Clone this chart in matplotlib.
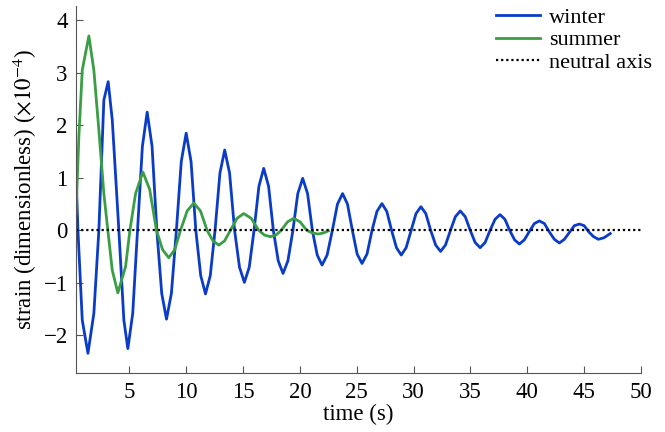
import matplotlib
matplotlib.use('Agg')
import matplotlib.pyplot as plt

plt.rcParams['font.family'] = ['Liberation Serif', 'DejaVu Serif']
plt.rcParams['mathtext.fontset'] = 'stix'

# winter strain (x1e-4)
winter_t = [0.30, 0.33, 0.47, 0.85, 1.35, 1.87, 2.31, 2.75, 3.13, 3.49, 4.07, 4.51, 4.86,
            5.29, 5.71, 6.14, 6.56, 6.99, 7.41, 7.84, 8.26, 8.69, 9.13, 9.56, 9.99,
            10.42, 10.84, 11.27, 11.69, 12.11, 12.53, 12.96, 13.38, 13.81, 14.25, 14.68,
            15.11, 15.54, 15.96, 16.39, 16.81, 17.24, 17.66, 18.09, 18.51, 18.94, 19.38,
            19.81, 20.24, 20.67, 21.09, 21.52, 21.94, 22.39, 22.85, 23.30, 23.75, 24.18,
            24.61, 25.03, 25.46, 25.90, 26.34, 26.77, 27.21, 27.64, 28.06, 28.49, 28.91,
            29.34, 29.78, 30.21, 30.64, 31.07, 31.50, 31.94, 32.37, 32.80, 33.24, 33.67,
            34.10, 34.54, 34.98, 35.41, 35.85, 36.29, 36.72, 37.16, 37.60, 38.03, 38.45,
            38.88, 39.30, 39.74, 40.18, 40.62, 41.06, 41.50, 41.94, 42.38, 42.82, 43.26,
            43.70, 44.14, 44.58, 45.00, 45.41, 45.83, 46.25, 46.75, 47.30]
winter_y = [1.49, 0.90, 0.00, -1.71, -2.34, -1.58, 0.00, 2.48, 2.83, 2.10, 0.00, -1.71, -2.25,
            -1.58, 0.00, 1.60, 2.25, 1.60, 0.00, -1.20, -1.69, -1.20, 0.00, 1.31, 1.85,
            1.31, 0.00, -0.86, -1.21, -0.86, 0.00, 1.09, 1.53, 1.09, 0.00, -0.70,
            -0.99, -0.70, 0.00, 0.84, 1.18, 0.84, 0.00, -0.58, -0.82, -0.58, 0.00,
            0.70, 0.99, 0.70, 0.00, -0.47, -0.66, -0.47, 0.00, 0.50, 0.70, 0.50,
            0.00, -0.45, -0.63, -0.45, 0.00, 0.36, 0.51, 0.36, 0.00, -0.33, -0.47,
            -0.33, 0.00, 0.32, 0.45, 0.32, 0.00, -0.28, -0.40, -0.28, 0.00, 0.26,
            0.37, 0.26, 0.00, -0.23, -0.33, -0.23, 0.00, 0.21, 0.30, 0.21, 0.00,
            -0.18, -0.26, -0.18, -0.02, 0.13, 0.18, 0.13, -0.03, -0.17, -0.24, -0.17,
            -0.04, 0.09, 0.12, 0.09, -0.03, -0.12, -0.17, -0.14, -0.06]

# summer strain (x1e-4)
summer_t = [0.30, 0.55, 0.85, 1.43, 1.87, 2.31, 2.75, 3.10, 3.49, 3.98, 4.66, 5.04, 5.54,
            6.18, 6.78, 7.38, 7.92, 8.46, 8.98, 9.49, 10.08, 10.66, 11.25, 11.83, 12.35,
            12.86, 13.37, 13.88, 14.47, 15.05, 15.71, 16.37, 16.88, 17.40, 17.88, 18.35,
            18.90, 19.45, 20.02, 20.60, 21.10, 21.60, 22.05, 22.50]
summer_y = [0.32, 1.78, 3.05, 3.70, 3.05, 1.91, 0.70, 0.00, -0.76, -1.19, -0.69, 0.00, 0.70,
            1.11, 0.78, 0.00, -0.37, -0.52, -0.37, 0.00, 0.37, 0.52, 0.37, 0.00, -0.20,
            -0.28, -0.20, 0.00, 0.23, 0.32, 0.23, 0.00, -0.09, -0.12, -0.09, 0.00,
            0.16, 0.23, 0.16, 0.00, -0.05, -0.07, -0.05, -0.01]

axis_t = [0.30, 50.0]
axis_y = [0.0, 0.0]

fig = plt.figure(figsize=(6.65, 4.32), dpi=100)
ax = fig.add_axes([0.1143, 0.1359, 0.8496, 0.8502])

ax.plot(winter_t, winter_y, color='#0a3cc8', lw=2.0, label='winter')
ax.plot(summer_t, summer_y, color='#3a9e44', lw=2.0, label='summer')
ax.plot(axis_t, axis_y, color='black', lw=1.6, linestyle=(0, (1, 1.3)), label='neutral axis')

ax.set_xlim(0.3, 50)
ax.set_ylim(-2.72, 4.27)
ax.set_xticks(range(5, 51, 5))
ax.set_yticks(range(-2, 5))
ax.set_yticklabels(['\u22122', '\u22121', '0', '1', '2', '3', '4'])

for s in ['top', 'right']:
    ax.spines[s].set_visible(False)
for s in ['left', 'bottom']:
    ax.spines[s].set_color('#555555')
ax.tick_params(direction='in', length=5, color='#555555', labelsize=16.5, pad=6)

ax.set_xlabel('time (s)', fontsize=16.5, labelpad=1)
ax.set_ylabel(r'strain (dimensionless) ($\times10^{-4}$)', fontsize=16.5, labelpad=3)

ax.legend(loc='upper right', bbox_to_anchor=(1.011, 1.03), bbox_transform=fig.transFigure,
          frameon=False, fontsize=16, handlelength=2.0, handletextpad=0.4,
          labelspacing=0.1, borderaxespad=0.5)

fig.savefig('out.png', dpi=100)
